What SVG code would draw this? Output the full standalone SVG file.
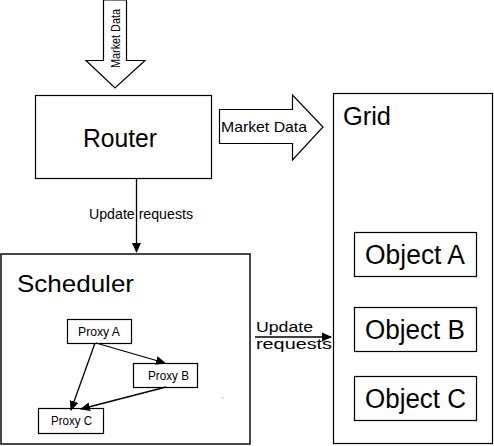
<svg xmlns="http://www.w3.org/2000/svg" width="494" height="446" viewBox="0 0 494 446">
<defs>
<style>
.box{fill:#fff;stroke:#000;stroke-width:1.2}
.frame{fill:#fff;stroke:#333;stroke-width:1.8}
.t{font-family:"Liberation Sans",Arial,sans-serif;fill:#000}
.ln{stroke:#000;stroke-width:1.3;fill:none}
</style>
<marker id="ah" markerWidth="10" markerHeight="10" refX="9" refY="5" orient="auto" markerUnits="userSpaceOnUse">
<path d="M0,0.5 L10,5 L0,9.5 Z" fill="#000"/>
</marker>
</defs>
<rect width="494" height="446" fill="#fff"/>
<g id="router">
<rect class="box" x="35.5" y="95.5" width="176" height="83"/>
<text class="t" x="83" y="147" font-size="25" textLength="74" lengthAdjust="spacingAndGlyphs">Router</text>
</g>
<g id="scheduler">
<rect class="frame" x="1" y="254" width="249" height="190"/>
<text class="t" x="17" y="292" font-size="24" textLength="117" lengthAdjust="spacingAndGlyphs">Scheduler</text>
</g>
<g id="grid">
<rect class="box" x="333.5" y="93.5" width="159" height="350"/>
<text class="t" x="343" y="125" font-size="25" textLength="48" lengthAdjust="spacingAndGlyphs">Grid</text>
</g>
<g id="objectA">
<rect class="box" x="354.5" y="232.5" width="122" height="44"/>
<text class="t" x="365" y="264" font-size="27" textLength="100" lengthAdjust="spacingAndGlyphs">Object A</text>
</g>
<g id="objectB">
<rect class="box" x="354.5" y="307.5" width="122" height="44"/>
<text class="t" x="365" y="339" font-size="27" textLength="100" lengthAdjust="spacingAndGlyphs">Object B</text>
</g>
<g id="objectC">
<rect class="box" x="354.5" y="376.5" width="122" height="44"/>
<text class="t" x="365" y="408" font-size="27" textLength="101" lengthAdjust="spacingAndGlyphs">Object C</text>
</g>
<g id="proxyA">
<rect class="box" x="67.5" y="319.5" width="64" height="24"/>
<text class="t" x="78" y="336" font-size="12" textLength="42" lengthAdjust="spacingAndGlyphs">Proxy A</text>
</g>
<g id="proxyB">
<rect class="box" x="133.5" y="363.5" width="64" height="24"/>
<text class="t" x="148" y="380" font-size="12" textLength="41" lengthAdjust="spacingAndGlyphs">Proxy B</text>
</g>
<g id="proxyC">
<rect class="box" x="38.5" y="408.5" width="65" height="25"/>
<text class="t" x="51" y="425" font-size="12" textLength="41" lengthAdjust="spacingAndGlyphs">Proxy C</text>
</g>
<g id="connectors">
<path class="box" d="M103.5,0 L126.5,0 L126.5,60.5 L145,60.5 L115,88 L86,60.5 L103.5,60.5 Z"/>
<text class="t" font-size="13" transform="translate(120,68) rotate(-90)" textLength="59" lengthAdjust="spacingAndGlyphs">Market Data</text>
<path class="box" d="M219.5,109.5 L292.5,109.5 L292.5,95 L323,127 L292.5,160 L292.5,143.5 L219.5,143.5 Z"/>
<text class="t" x="221" y="132" font-size="15" textLength="86" lengthAdjust="spacingAndGlyphs">Market Data</text>
<line class="ln" x1="136.5" y1="178" x2="136.5" y2="252" marker-end="url(#ah)"/>
<text class="t" x="89" y="219" font-size="15" textLength="104" lengthAdjust="spacingAndGlyphs">Update requests</text>
<line class="ln" x1="255" y1="337" x2="331" y2="337" marker-end="url(#ah)"/>
<text class="t" x="256" y="332" font-size="15.5" textLength="57" lengthAdjust="spacingAndGlyphs">Update</text>
<text class="t" x="256" y="349" font-size="15.5" textLength="76" lengthAdjust="spacingAndGlyphs">requests</text>
<line class="ln" x1="96" y1="343" x2="165" y2="363" marker-end="url(#ah)"/>
<line class="ln" x1="95" y1="343" x2="71" y2="410" marker-end="url(#ah)"/>
<line class="ln" x1="166" y1="387" x2="81" y2="409" marker-end="url(#ah)"/>
<rect x="222" y="397" width="1" height="1" fill="#888"/>
</g>
</svg>
